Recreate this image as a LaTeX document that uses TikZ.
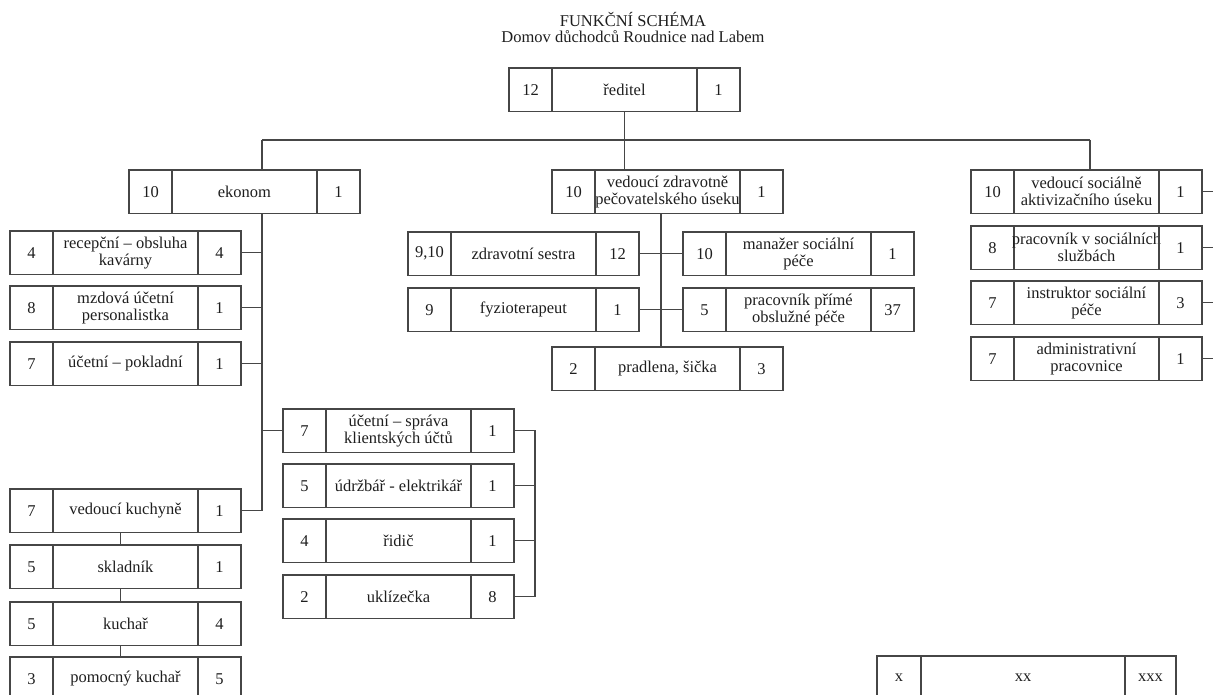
\documentclass[tikz,border=0pt]{standalone}
\usepackage{fontspec}
\setmainfont{Liberation Serif}
\definecolor{linec}{RGB}{70,70,70}
\definecolor{textc}{RGB}{30,30,30}
\tikzset{
  cell/.style={draw=linec, line width=1.1pt, inner sep=0pt, outer sep=0pt,
    minimum height=43.5pt, align=center, text=textc,
    font=\fontsize{16.5}{17}\selectfont},
  link/.style={draw=linec, line width=1.1pt},
  ttl/.style={anchor=base, text=textc, font=\fontsize{16.5}{17}\selectfont},
}
% #1 name, #2 x left, #3 y top, #4 left text, #5 middle text, #6 right text
\newcommand{\orgtrio}[6]{%
  \node[cell, minimum width=43pt, anchor=north west] (#1L) at (#2,#3) {#4};
  \node[cell, minimum width=145pt, anchor=north west] (#1M) at (#1L.north east) {#5};
  \node[cell, minimum width=43pt, anchor=north west] (#1R) at (#1M.north east) {#6};%
}
\begin{document}
\begin{tikzpicture}[x=1pt,y=-1pt]
\useasboundingbox (0,0) rectangle (1213,695);
\clip (0,0) rectangle (1213,695);

% title
\node[ttl] (t1) at (633,27) {FUNKČNÍ SCHÉMA};
\node[ttl] (t2) at (633,43) {Domov důchodců Roudnice nad Labem};

% boxes
\orgtrio{red}{509}{68}{12}{ředitel}{1}
\orgtrio{ek}{129}{170}{10}{ekonom}{1}
\orgtrio{vz}{552}{170}{10}{vedoucí zdravotně\\pečovatelského úseku}{1}
\orgtrio{vs}{971}{170}{10}{vedoucí sociálně\\aktivizačního úseku}{1}

\orgtrio{rec}{10}{231}{4}{recepční – obsluha\\kavárny}{4}
\orgtrio{mz}{10}{286}{8}{mzdová účetní\\personalistka}{1}
\orgtrio{pok}{10}{342}{7}{účetní – pokladní}{1}
\orgtrio{vk}{10}{489}{7}{vedoucí kuchyně}{1}
\orgtrio{skl}{10}{545}{5}{skladník}{1}
\orgtrio{kuch}{10}{602}{5}{kuchař}{4}
\orgtrio{pk}{10}{657}{3}{pomocný kuchař}{5}

\orgtrio{us}{283}{409}{7}{účetní – správa\\klientských účtů}{1}
\orgtrio{udr}{283}{464}{5}{údržbář - elektrikář}{1}
\orgtrio{rid}{283}{519}{4}{řidič}{1}
\orgtrio{ukl}{283}{575}{2}{uklízečka}{8}

\orgtrio{zs}{408}{232}{9,10}{zdravotní sestra}{12}
\orgtrio{fyz}{408}{288}{9}{fyzioterapeut}{1}
\orgtrio{man}{683}{232}{10}{manažer sociální\\péče}{1}
\orgtrio{ppp}{683}{288}{5}{pracovník přímé\\obslužné péče}{37}
\orgtrio{pra}{552}{347}{2}{pradlena, šička}{3}

\orgtrio{pvs}{971}{226}{8}{\makebox[140pt]{pracovník v sociálních}\\službách}{1}
\orgtrio{ins}{971}{281}{7}{instruktor sociální\\péče}{3}
\orgtrio{adm}{971}{337}{7}{administrativní\\pracovnice}{1}

% legend
\node[cell, minimum width=44pt, anchor=north west] (legL) at (877,656) {x};
\node[cell, minimum width=204pt, anchor=north west] (legM) at (legL.north east) {xx};
\node[cell, minimum width=51pt, anchor=north west] (legR) at (legM.north east) {xxx};

% top level connectors
\coordinate (hubL) at (262,140);
\coordinate (hubR) at (1090,140);
\draw[link] (redM.south) -- (redM.south |- hubL);
\draw[link] (hubL) -- (hubR);
\draw[link] (hubL) -- (hubL |- ekM.north);
\draw[link] (redM.south |- hubL) -- (redM.south |- vzM.north);
\draw[link] (hubR) -- (hubR |- vsM.north);

% ekonom spine
\draw[link] (hubL |- ekM.south) |- (vkR.east);
\draw[link] (recR.east) -- (recR.east -| hubL);
\draw[link] (mzR.east) -- (mzR.east -| hubL);
\draw[link] (pokR.east) -- (pokR.east -| hubL);
\draw[link] (usL.west) -- (usL.west -| hubL);

% maintenance bracket
\coordinate (brk) at (535,0);
\draw[link] (usR.east) -- (usR.east -| brk) -- (uklR.east -| brk) -- (uklR.east);
\draw[link] (udrR.east) -- (udrR.east -| brk);
\draw[link] (ridR.east) -- (ridR.east -| brk);

% kitchen chain
\draw[link] ([xshift=-5pt]vkM.south) -- ([xshift=-5pt]sklM.north);
\draw[link] ([xshift=-5pt]sklM.south) -- ([xshift=-5pt]kuchM.north);
\draw[link] ([xshift=-5pt]kuchM.south) -- ([xshift=-5pt]pkM.north);

% health section
\coordinate (mid) at (661,0);
\draw[link] (vzM.south -| mid) -- (praM.north -| mid);
\draw[link] (zsR.east) -- (manL.west);
\draw[link] (fyzR.east) -- (pppL.west);

% social section (continues beyond right edge)
\coordinate (rb) at (1222,0);
\draw[link] (vsR.east) -- (vsR.east -| rb);
\draw[link] (pvsR.east) -- (pvsR.east -| rb);
\draw[link] (insR.east) -- (insR.east -| rb);
\draw[link] (admR.east) -- (admR.east -| rb);
\end{tikzpicture}
\end{document}
